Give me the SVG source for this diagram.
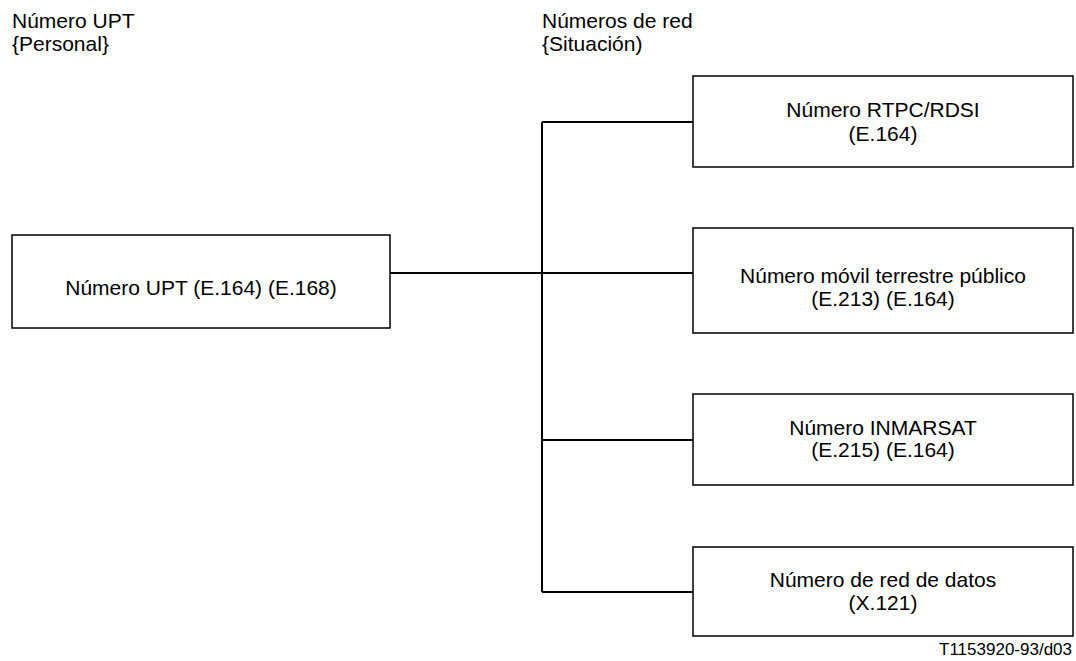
<svg xmlns="http://www.w3.org/2000/svg" width="1076" height="661" viewBox="0 0 1076 661">
<style>
text{font-family:"Liberation Sans",Arial,sans-serif;font-size:21px;fill:#000}
.c{text-anchor:middle}
.box{fill:#fff;stroke:#000;stroke-width:1.5}
.ln{fill:none;stroke:#000;stroke-width:2}
</style>
<rect width="1076" height="661" fill="#fff"/>
<g id="headers">
<text x="12" y="28">Número UPT</text>
<text x="12" y="51">{Personal}</text>
<text x="542" y="28">Números de red</text>
<text x="542" y="51">{Situación)</text>
</g>
<g id="connectors">
<path class="ln" d="M390 273H693"/>
<path class="ln" d="M542 122V592"/>
<path class="ln" d="M542 122H693"/>
<path class="ln" d="M542 440H693"/>
<path class="ln" d="M542 592H693"/>
</g>
<g id="upt">
<rect class="box" x="12" y="235" width="378" height="93"/>
<text class="c" x="201" y="295">Número UPT (E.164) (E.168)</text>
</g>
<g id="rtpc">
<rect class="box" x="693" y="76" width="380" height="91"/>
<text class="c" x="883" y="117">Número RTPC/RDSI</text>
<text class="c" x="883" y="141">(E.164)</text>
</g>
<g id="movil">
<rect class="box" x="693" y="228" width="380" height="105"/>
<text class="c" x="883" y="283">Número móvil terrestre público</text>
<text class="c" x="883" y="306">(E.213) (E.164)</text>
</g>
<g id="inmarsat">
<rect class="box" x="693" y="394" width="380" height="91"/>
<text class="c" x="883" y="435">Número INMARSAT</text>
<text class="c" x="883" y="457">(E.215) (E.164)</text>
</g>
<g id="datos">
<rect class="box" x="693" y="547" width="380" height="89"/>
<text class="c" x="883" y="587">Número de red de datos</text>
<text class="c" x="883" y="610">(X.121)</text>
</g>
<text x="1072" y="655" style="font-size:17px;text-anchor:end">T1153920-93/d03</text>
</svg>
